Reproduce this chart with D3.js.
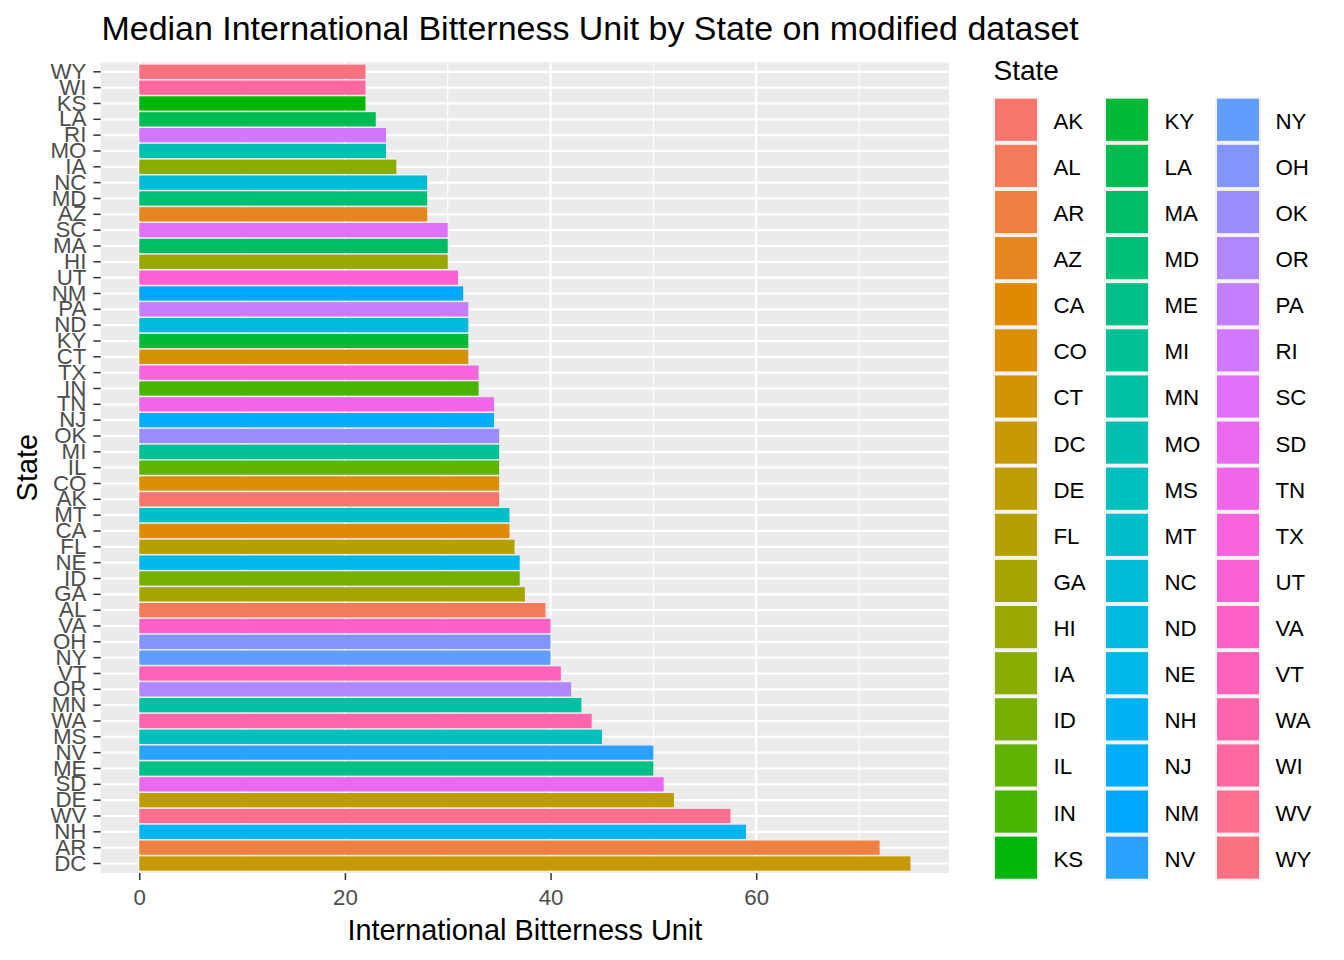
<!DOCTYPE html>
<html>
<head>
<meta charset="utf-8">
<script src="https://cdn.jsdelivr.net/npm/d3@7"></script>
<style>
  body { margin: 0; background: #fff; }
  svg { display: block; font-family: "Liberation Sans", Arial, sans-serif; }
</style>
</head>
<body>
<svg width="1344" height="960"></svg>
<script>
// states from bottom of the chart to the top (sorted by median IBU, descending)
const states = ["DC","AR","NH","WV","DE","SD","ME","NV","MS","WA","MN","OR","VT","NY","OH","VA","AL","GA","ID","NE","FL","CA","MT","AK","CO","IL","MI","OK","NJ","TN","IN","TX","CT","KY","ND","PA","NM","UT","HI","MA","SC","AZ","MD","NC","IA","MO","RI","LA","KS","WI","WY"];
const medianIBU = [75,72,59,57.5,52,51,50,50,45,44,43,42,41,40,40,40,39.5,37.5,37,37,36.5,36,36,35,35,35,35,35,34.5,34.5,33,33,32,32,32,32,31.5,31,30,30,30,28,28,28,25,24,24,23,22,22,22];
const xMajor = [0, 20, 40, 60];
const xMinor = [10, 30, 50, 70];

const title = "Median International Bitterness Unit by State on modified dataset";
const xTitle = "International Bitterness Unit";
const yTitle = "State";
const legendTitle = "State";

const data = states.map((s, i) => ({state: s, value: medianIBU[i]}));
const legendStates = states.slice().sort();

// ggplot hue palette: polar LUV, l = 65, c = 100
const hclLuv = (h, c, l) => {
  const Xn = 95.047, Yn = 100, Zn = 108.883;
  const un = 4 * Xn / (Xn + 15 * Yn + 3 * Zn);
  const vn = 9 * Yn / (Xn + 15 * Yn + 3 * Zn);
  const u = c * Math.cos(h * Math.PI / 180);
  const v = c * Math.sin(h * Math.PI / 180);
  const Y = Yn * Math.pow((l + 16) / 116, 3);
  const up = u / (13 * l) + un;
  const vp = v / (13 * l) + vn;
  const X = 9 * Y * up / (4 * vp);
  const Z = -X / 3 - 5 * Y + 3 * Y / vp;
  const x = X / 100, y = Y / 100, z = Z / 100;
  const lin = [
    3.240479 * x - 1.537150 * y - 0.498535 * z,
    -0.969256 * x + 1.875992 * y + 0.041556 * z,
    0.055648 * x - 0.204043 * y + 1.057311 * z
  ];
  const rgb = lin.map(t => {
    let g = t <= 0.0031308 ? 12.92 * t : 1.055 * Math.pow(t, 1 / 2.4) - 0.055;
    g = Math.max(0, Math.min(1, g));
    return Math.round(g * 255);
  });
  return "rgb(" + rgb[0] + ", " + rgb[1] + ", " + rgb[2] + ")";
};
const n = legendStates.length;
const palette = legendStates.map((s, i) => hclLuv(15 + 360 * i / n, 100, 65));
const color = d3.scaleOrdinal().domain(legendStates).range(palette);

// panel
const panel = {left: 100.7, right: 949, top: 62.3, bottom: 873};

const x = d3.scaleLinear()
  .domain([-3.75, 78.75])
  .range([panel.left, panel.right]);

const y = d3.scaleBand()
  .domain(states.slice().reverse())
  .range([panel.top, panel.bottom])
  .paddingInner(0.1)
  .paddingOuter(0.15);

const svg = d3.select("svg");

svg.append("rect")
  .attr("x", panel.left).attr("y", panel.top)
  .attr("width", panel.right - panel.left)
  .attr("height", panel.bottom - panel.top)
  .attr("fill", "#EBEBEB");

// grid
svg.append("g").selectAll("line")
  .data(xMinor)
  .join("line")
  .attr("x1", d => x(d)).attr("x2", d => x(d))
  .attr("y1", panel.top).attr("y2", panel.bottom)
  .attr("stroke", "#fff").attr("stroke-width", 1.1);

svg.append("g").selectAll("line")
  .data(xMajor)
  .join("line")
  .attr("x1", d => x(d)).attr("x2", d => x(d))
  .attr("y1", panel.top).attr("y2", panel.bottom)
  .attr("stroke", "#fff").attr("stroke-width", 2.2);

svg.append("g").selectAll("line")
  .data(states)
  .join("line")
  .attr("x1", panel.left).attr("x2", panel.right)
  .attr("y1", d => y(d) + y.bandwidth() / 2)
  .attr("y2", d => y(d) + y.bandwidth() / 2)
  .attr("stroke", "#fff").attr("stroke-width", 2.2);

// bars
svg.append("g").selectAll("rect")
  .data(data)
  .join("rect")
  .attr("x", x(0))
  .attr("y", d => y(d.state))
  .attr("width", d => x(d.value) - x(0))
  .attr("height", y.bandwidth())
  .attr("fill", d => color(d.state));

// axes
const xAxis = svg.append("g")
  .attr("transform", "translate(0," + panel.bottom + ")")
  .call(d3.axisBottom(x).tickValues(xMajor).tickSize(7).tickPadding(6));
const yAxis = svg.append("g")
  .attr("transform", "translate(" + panel.left + ",0)")
  .call(d3.axisLeft(y).tickSize(7.3).tickPadding(7));

[xAxis, yAxis].forEach(a => {
  a.select(".domain").remove();
  a.selectAll(".tick line").attr("stroke", "#333333").attr("stroke-width", 1.5);
  a.selectAll(".tick text")
    .attr("fill", "#4D4D4D")
    .style("font-size", "22.3px")
    .style("font-family", "'Liberation Sans', Arial, sans-serif");
});
xAxis.selectAll(".tick text").attr("dy", null).attr("y", 32);

// titles
svg.append("text")
  .attr("x", 101.5).attr("y", 40)
  .style("font-size", "33.95px")
  .attr("fill", "#000")
  .text(title);

svg.append("text")
  .attr("x", (panel.left + panel.right) / 2).attr("y", 939.5)
  .attr("text-anchor", "middle")
  .style("font-size", "28.9px")
  .attr("fill", "#000")
  .text(xTitle);

svg.append("text")
  .attr("transform", "translate(37," + ((panel.top + panel.bottom) / 2) + ") rotate(-90)")
  .attr("text-anchor", "middle")
  .style("font-size", "28.9px")
  .attr("fill", "#000")
  .text(yTitle);

// legend, filled column by column
const legend = svg.append("g");
legend.append("text")
  .attr("x", 993.5).attr("y", 80)
  .style("font-size", "28px")
  .attr("fill", "#000")
  .text(legendTitle);

const rowsPerCol = 17;
const keySize = 46.12;
const colStep = 111;
const keys = legend.selectAll("g.key")
  .data(legendStates)
  .join("g")
  .attr("class", "key")
  .attr("transform", (d, i) => "translate(" + (993 + Math.floor(i / rowsPerCol) * colStep) + "," + (96.7 + (i % rowsPerCol) * keySize) + ")");

keys.append("rect")
  .attr("width", 46).attr("height", keySize)
  .attr("fill", "#F2F2F2");
keys.append("rect")
  .attr("x", 2).attr("y", 2)
  .attr("width", 42).attr("height", keySize - 4)
  .attr("fill", d => color(d));
keys.append("text")
  .attr("x", 60.5).attr("y", keySize / 2 + 1)
  .attr("dy", "0.36em")
  .style("font-size", "22.3px")
  .attr("fill", "#000")
  .text(d => d);
</script>
</body>
</html>
